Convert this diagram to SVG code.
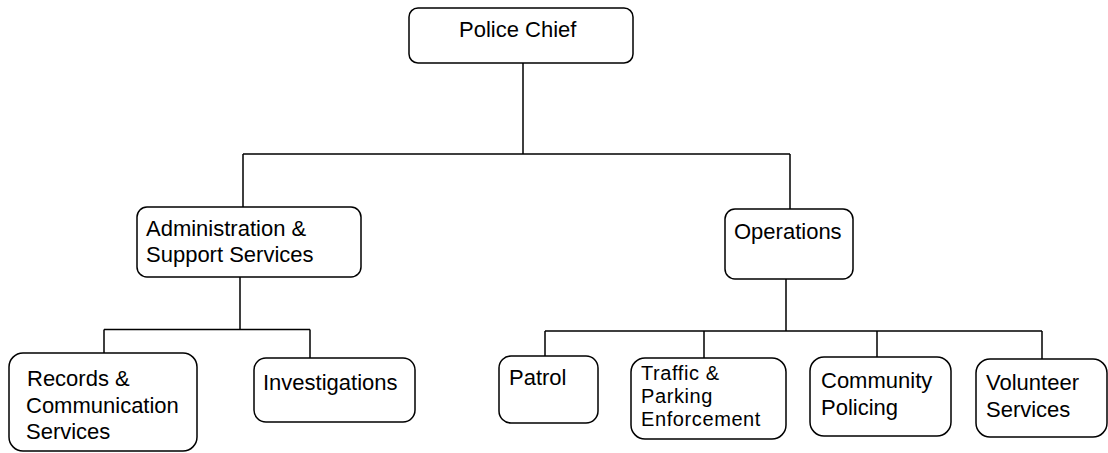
<svg xmlns="http://www.w3.org/2000/svg" width="1108" height="453" viewBox="0 0 1108 453">
<style>
.box{fill:#fff;stroke:#000;stroke-width:1.5}
.ln{fill:none;stroke:#000;stroke-width:1.5}
text{font-family:"Liberation Sans",Arial,sans-serif;font-size:22px;fill:#000}
.tight{font-size:20px;letter-spacing:0.6px}
</style>
<rect width="1108" height="453" fill="#fff"/>
<g id="connectors">
<path class="ln" d="M523,63 V154 M243,154 H790 M243,154 V207 M790,154 V209"/>
<path class="ln" d="M240,277 V329.5 M104,329.5 H310 M104,329.5 V353 M310,329.5 V358"/>
<path class="ln" d="M786,279 V331 M545,331 H1042 M545,331 V356 M704,331 V358 M877,331 V357 M1042,331 V359"/>
</g>
<g id="police-chief"><rect class="box" x="409" y="8" width="224" height="55" rx="9"/><text x="459" y="37">Police Chief</text></g>
<g id="admin"><rect class="box" x="137" y="207" width="224" height="70" rx="10"/><text x="146" y="236">Administration &amp;</text><text x="146" y="262">Support Services</text></g>
<g id="operations"><rect class="box" x="725" y="209" width="128" height="70" rx="10"/><text x="734" y="239">Operations</text></g>
<g id="records"><rect class="box" x="9" y="353" width="188" height="98" rx="14"/><text x="27" y="386">Records &amp;</text><text x="26" y="413">Communication</text><text x="26" y="439">Services</text></g>
<g id="investigations"><rect class="box" x="254" y="358" width="161" height="64" rx="12"/><text x="263" y="390">Investigations</text></g>
<g id="patrol"><rect class="box" x="499" y="356" width="99" height="67" rx="12"/><text x="509" y="385">Patrol</text></g>
<g id="traffic"><rect class="box" x="631" y="358" width="155" height="81" rx="14"/><text class="tight" x="641" y="380">Traffic &amp;</text><text class="tight" x="641" y="403">Parking</text><text class="tight" x="641" y="426">Enforcement</text></g>
<g id="community"><rect class="box" x="810" y="357" width="141" height="79" rx="14"/><text x="821" y="388">Community</text><text x="821" y="415">Policing</text></g>
<g id="volunteer"><rect class="box" x="976" y="359" width="131" height="78" rx="14"/><text x="986" y="390">Volunteer</text><text x="986" y="417">Services</text></g>
</svg>
